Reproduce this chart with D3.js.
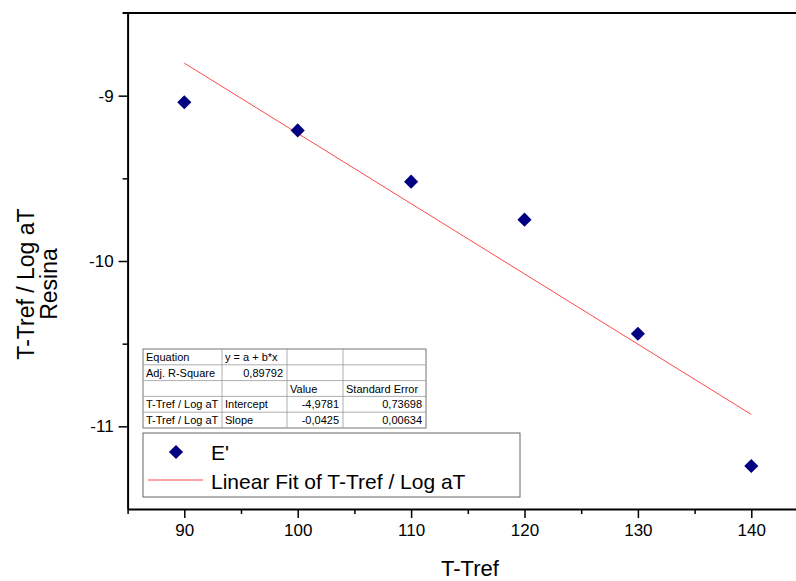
<!DOCTYPE html>
<html>
<head>
<meta charset="utf-8">
<script src="https://cdn.jsdelivr.net/npm/d3@7"></script>
<style>
  body { margin: 0; background: #fff; }
  svg { display: block; font-family: Arial, "Liberation Sans", sans-serif; }
</style>
</head>
<body>
<div class="chart"></div>
<script>
// data
const temps = [90, 100, 110, 120, 130, 140];
const logAT = [-9.04, -9.21, -9.52, -9.75, -10.44, -11.24];
const fitIntercept = -4.9781;
const fitSlope = -0.0425;
const fitRange = [90, 140];
const xTicks = [90, 100, 110, 120, 130, 140];
const yTicks = [-9, -10, -11];

const tableRows = [
  ["Equation", "y = a + b*x", "", ""],
  ["Adj. R-Square", "0,89792", "", ""],
  ["", "", "Value", "Standard Error"],
  ["T-Tref / Log aT", "Intercept", "-4,9781", "0,73698"],
  ["T-Tref / Log aT", "Slope", "-0,0425", "0,00634"]
];

const width = 796;
const height = 581;
const margin = { top: 13, bottom: 72, left: 127.6, right: -12 };

const svg = d3.select('.chart')
  .append('svg')
  .attr('width', width)
  .attr('height', height)

const x = d3.scaleLinear()
  .domain([85, 145])
  .range([margin.left, width - margin.right])

const y = d3.scaleLinear()
  .domain([-11.5, -8.5])
  .range([height - margin.bottom, margin.top])

// frame (top + right, no ticks)
svg.append("path")
  .attr("d", `M${margin.left - 5},${y(-8.5)}H${x(145)}V${y(-11.5)}`)
  .attr("fill", "none")
  .attr("stroke", "#000")
  .attr("stroke-width", 2)

const xAxis = g => {
  g.attr("transform", `translate(0,${y(-11.5)})`)
  .call(d3.axisBottom(x).tickValues(xTicks).tickSize(9).tickSizeOuter(0).tickPadding(6).tickFormat(d => String(d)))
  .call(g => g.selectAll(".tick text").attr("font-size", "17px").attr("font-family", "Arial, 'Liberation Sans', sans-serif"))
  .call(g => g.select(".domain").attr("stroke-width", 2))
  .call(g => g.selectAll(".tick line").attr("stroke-width", 1.5))
}

const xMinor = g => {
  g.attr("transform", `translate(0,${y(-11.5)})`)
  .call(d3.axisBottom(x).tickValues(d3.range(85, 145, 10)).tickSize(5).tickSizeOuter(0).tickFormat(""))
  .call(g => g.select(".domain").remove())
  .call(g => g.selectAll(".tick line").attr("stroke-width", 1.5))
}

const yAxis = g => {
  g.attr("transform", `translate(${margin.left}, 0)`)
  .call(d3.axisLeft(y).tickValues(yTicks).tickSize(9).tickSizeOuter(0).tickPadding(5).tickFormat(d => String(d)))
  .call(g => g.selectAll(".tick text").attr("font-size", "17px").attr("font-family", "Arial, 'Liberation Sans', sans-serif"))
  .call(g => g.select(".domain").attr("stroke-width", 2))
  .call(g => g.selectAll(".tick line").attr("stroke-width", 1.5))
}

const yMinor = g => {
  g.attr("transform", `translate(${margin.left}, 0)`)
  .call(d3.axisLeft(y).tickValues([-9.5, -10.5]).tickSize(5).tickSizeOuter(0).tickFormat(""))
  .call(g => g.select(".domain").remove())
  .call(g => g.selectAll(".tick line").attr("stroke-width", 1.5))
}

svg.append("g").call(xMinor);
svg.append("g").call(yMinor);
svg.append("g").call(xAxis);
svg.append("g").call(yAxis);

// axis titles
svg.append("text")
  .attr("x", 470)
  .attr("y", 576)
  .attr("text-anchor", "middle")
  .attr("font-size", "22px")
  .text("T-Tref")

const yTitle = svg.append("text")
  .attr("transform", "translate(0,284) rotate(-90)")
  .attr("text-anchor", "middle")
  .attr("font-size", "23px")
yTitle.append("tspan").attr("x", 0).attr("y", 34).text("T-Tref / Log aT")
yTitle.append("tspan").attr("x", 0).attr("y", 57).text("Resina")

// fit line
const fitLine = d3.line()
  .x(d => x(d))
  .y(d => y(fitIntercept + fitSlope * d))

svg.append("path")
  .datum(fitRange)
  .attr("d", fitLine)
  .attr("fill", "none")
  .attr("stroke", "#ff4a4a")
  .attr("stroke-width", 1)

// points
const diamond = d3.symbol().type(d3.symbolSquare).size(100)

svg.append("g")
  .attr("fill", "#000080")
  .selectAll("path")
  .data(temps)
  .join("path")
  .attr("d", diamond)
  .attr("transform", (d, i) => `translate(${x(d)},${y(logAT[i])}) rotate(45)`)

// parameter table
const colX = [143, 222, 287, 343, 426];
const rowH = 15.8;
const tableTop = 349;
const table = svg.append("g").attr("font-size", "11px")

table.append("rect")
  .attr("x", colX[0]).attr("y", tableTop)
  .attr("width", colX[4] - colX[0]).attr("height", rowH * tableRows.length)
  .attr("fill", "#fff").attr("stroke", "#777").attr("stroke-width", 1)

tableRows.forEach((row, r) => {
  if (r > 0) {
    table.append("line")
      .attr("x1", colX[0]).attr("x2", colX[4])
      .attr("y1", tableTop + r * rowH).attr("y2", tableTop + r * rowH)
      .attr("stroke", "#999").attr("stroke-width", 0.8)
  }
  row.forEach((cell, c) => {
    const numeric = /^-?\d/.test(cell) && !(c === 1 && r === 0);
    table.append("text")
      .attr("x", numeric ? colX[c + 1] - 4 : colX[c] + 3)
      .attr("y", tableTop + r * rowH + 12)
      .attr("text-anchor", numeric ? "end" : "start")
      .text(cell)
  })
})
colX.slice(1, 4).forEach(cx => {
  table.append("line")
    .attr("x1", cx).attr("x2", cx)
    .attr("y1", tableTop).attr("y2", tableTop + rowH * tableRows.length)
    .attr("stroke", "#999").attr("stroke-width", 0.8)
})

// legend
const legend = svg.append("g")
legend.append("rect")
  .attr("x", 143).attr("y", 433).attr("width", 377).attr("height", 64)
  .attr("fill", "#fff").attr("stroke", "#666").attr("stroke-width", 1)
legend.append("path")
  .attr("d", diamond)
  .attr("fill", "#000080")
  .attr("transform", "translate(176,452) rotate(45)")
legend.append("text")
  .attr("x", 211).attr("y", 460).attr("font-size", "21px").text("E'")
legend.append("line")
  .attr("x1", 148).attr("x2", 203).attr("y1", 480).attr("y2", 480)
  .attr("stroke", "#ff4a4a").attr("stroke-width", 1)
legend.append("text")
  .attr("x", 211).attr("y", 489).attr("font-size", "21px").text("Linear Fit of T-Tref / Log aT")
</script>
</body>
</html>
